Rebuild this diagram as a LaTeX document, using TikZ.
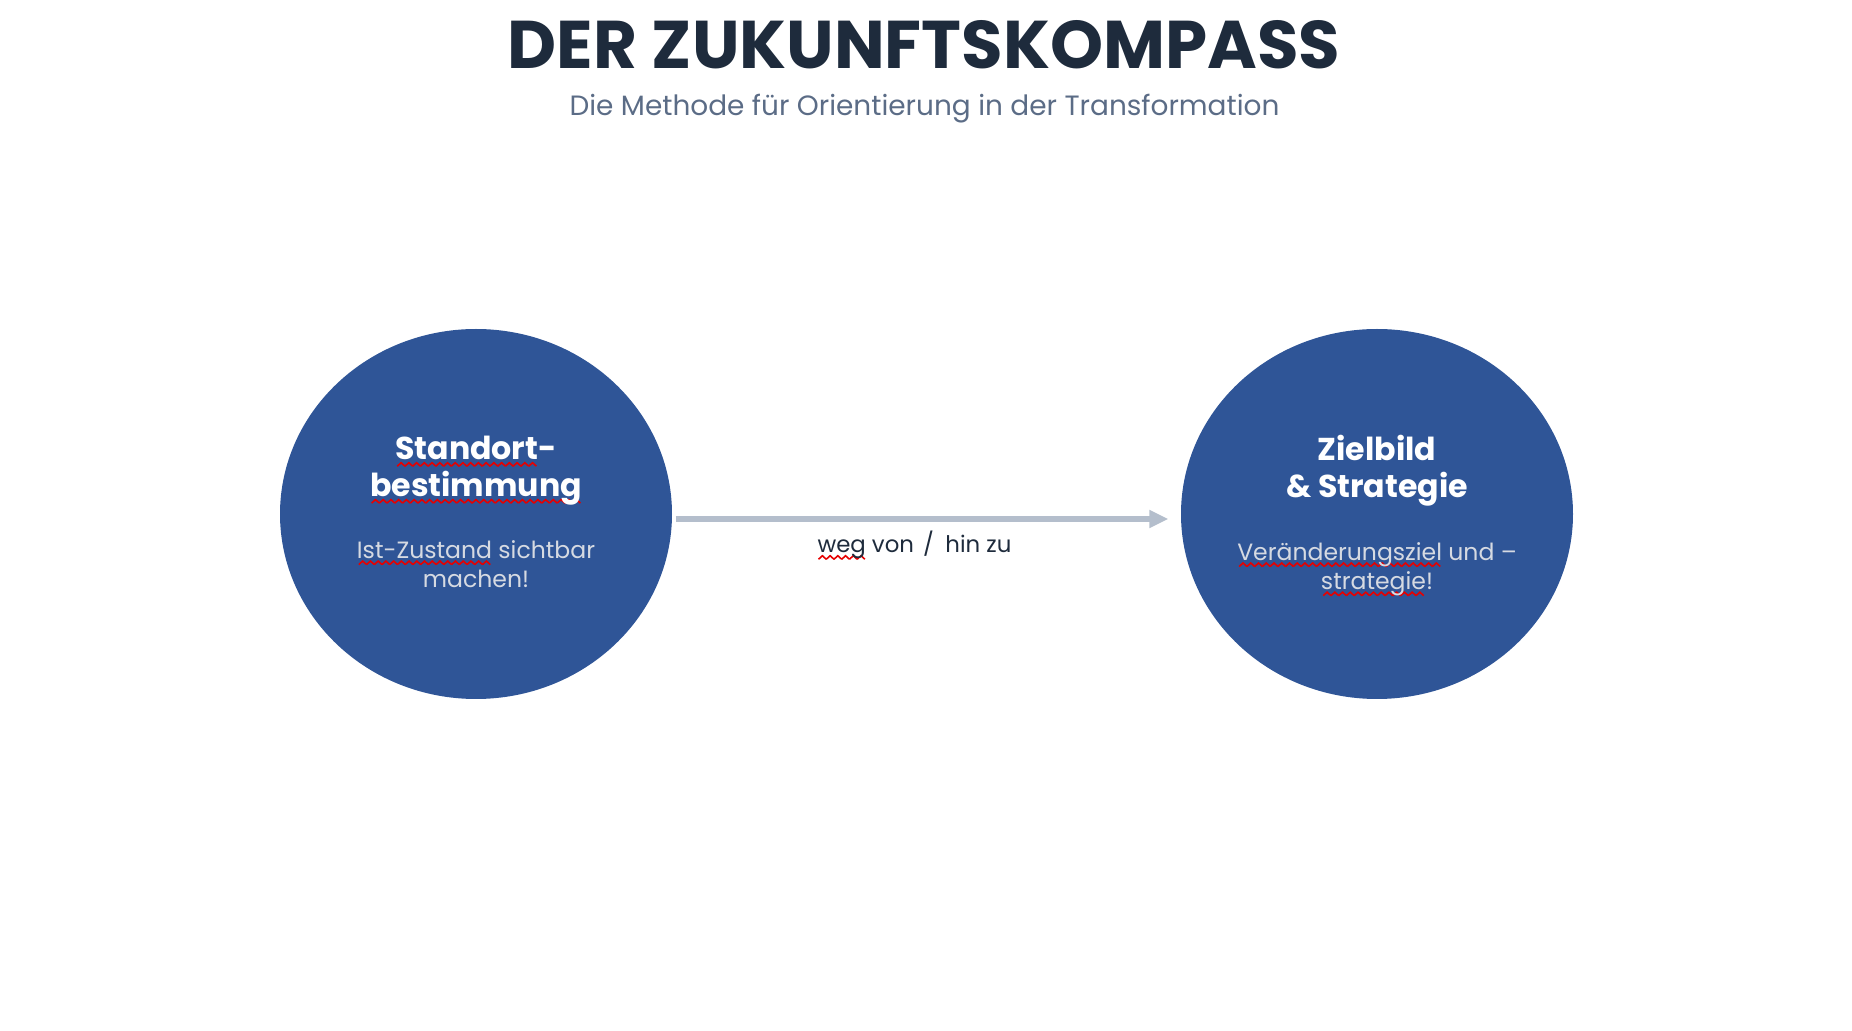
\documentclass[tikz,border=0pt]{standalone}
\usepackage{fontspec}
\setmainfont{Poppins}
\usetikzlibrary{shapes.geometric,arrows.meta,positioning}
\definecolor{kompassblue}{RGB}{47,85,151}
\definecolor{titlenavy}{RGB}{30,43,60}
\definecolor{subgray}{RGB}{91,108,134}
\definecolor{arrowgray}{RGB}{180,190,204}
\definecolor{paletext}{RGB}{214,218,226}
\definecolor{spellred}{RGB}{230,0,0}

% red wavy spell-check underline
\newcommand{\spellzig}{\tikz[x=1pt,y=1pt]{\useasboundingbox (0,-0.5) rectangle (2.2,0.5); \draw[-, shorten <=0pt, shorten >=0pt, spellred, line width=0.45pt] (0,-0.5) -- (1.1,0.5) -- (2.2,-0.5);}}
\newcommand{\spellmark}[1]{\setbox0\hbox{#1}\rlap{\lower1.8pt\hbox to\wd0{\cleaders\hbox{\spellzig}\hfil}}\box0\relax}

\begin{document}
\begin{tikzpicture}[
    circ/.style={ellipse, fill=kompassblue, minimum width=3.92cm, minimum height=3.70cm, inner sep=0pt},
    headtext/.style={text=white, align=center, font=\bfseries\fontsize{9}{10.5}\selectfont, inner sep=0pt},
    subtext/.style={text=paletext, align=center, font=\fontsize{6.7}{8.3}\selectfont, inner sep=0pt}
  ]
  \useasboundingbox (0,0) rectangle (18.52,-10.31);

  \node[font=\bfseries\fontsize{19.2}{21}\selectfont, text=titlenavy, inner sep=0pt] (title) at (9.24,-0.45) {DER ZUKUNFTSKOMPASS};
  \node[font=\fontsize{7.95}{9.5}\selectfont, text=subgray, inner sep=0pt] (subtitle) at (9.245,-1.085) {Die Methode für Orientierung in der Transformation};

  \node[circ] (ist) at (4.76,-5.14) {};
  \node[circ] (ziel) at (13.77,-5.14) {};

  \node[headtext] (istname) at ([yshift=0.43cm]ist.center) {\spellmark{Standort}-\\\spellmark{bestimmung}};
  \node[subtext] (istnote) at ([yshift=-0.50cm]ist.center) {\spellmark{Ist-Zustand} sichtbar\\machen!};
  \node[headtext] (zielname) at ([yshift=0.43cm]ziel.center) {Zielbild\\\& Strategie};
  \node[subtext] (zielnote) at ([yshift=-0.55cm]ziel.center) {\spellmark{Veränderungsziel} und –\\\spellmark{strategie}!};

  \draw[arrowgray, line width=0.06cm, -{Triangle[length=0.19cm,width=0.17cm]}, shorten <=0.03cm, shorten >=0.12cm] ([yshift=-0.05cm]ist.east) -- ([yshift=-0.05cm]ziel.west)
    node[midway, below=0.0cm, xshift=-0.12cm, text=titlenavy, font=\fontsize{6.5}{8}\selectfont] (weg) {\spellmark{weg} von\hspace{0.4em}/\hspace{0.5em}hin zu};
\end{tikzpicture}
\end{document}
